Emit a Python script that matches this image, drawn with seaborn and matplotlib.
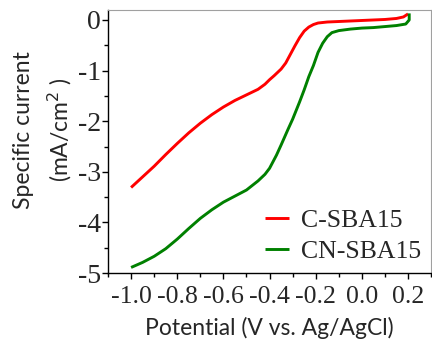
import numpy as np
import pandas as pd
import matplotlib
matplotlib.use("Agg")
import matplotlib.pyplot as plt
import seaborn as sns
from matplotlib.ticker import MultipleLocator

sns.set_style("ticks")

potential_c = [-1.00, -0.95, -0.90, -0.85, -0.80, -0.75, -0.70, -0.65, -0.60, -0.55, -0.50,
               -0.45, -0.42, -0.40, -0.38, -0.35, -0.33, -0.31, -0.29, -0.27, -0.25, -0.23,
               -0.21, -0.19, -0.15, -0.10, -0.05, 0.00, 0.05, 0.10, 0.15, 0.18, 0.20]
current_c = [-3.31, -3.10, -2.89, -2.66, -2.44, -2.23, -2.04, -1.87, -1.72, -1.59, -1.48,
             -1.37, -1.27, -1.18, -1.10, -0.97, -0.85, -0.68, -0.51, -0.35, -0.22, -0.14,
             -0.09, -0.06, -0.04, -0.03, -0.02, -0.01, 0.00, 0.01, 0.03, 0.06, 0.12]

potential_cn = [-1.00, -0.95, -0.90, -0.85, -0.80, -0.75, -0.70, -0.65, -0.60, -0.55, -0.50,
                -0.45, -0.42, -0.40, -0.37, -0.35, -0.32, -0.30, -0.27, -0.25, -0.23, -0.21,
                -0.19, -0.17, -0.15, -0.13, -0.10, -0.05, 0.00, 0.05, 0.10, 0.15, 0.19,
                0.205, 0.205]
current_cn = [-4.89, -4.79, -4.67, -4.52, -4.33, -4.12, -3.92, -3.75, -3.60, -3.48, -3.36,
              -3.18, -3.05, -2.93, -2.67, -2.47, -2.16, -1.96, -1.62, -1.38, -1.12, -0.90,
              -0.64, -0.46, -0.33, -0.25, -0.21, -0.18, -0.16, -0.15, -0.13, -0.11, -0.08,
              0.00, 0.13]

labels = ["C-SBA15", "CN-SBA15"]
colors = ["#ff0000", "#008000"]

df = pd.concat([
    pd.DataFrame({"Potential": potential_c, "Current": current_c, "Sample": labels[0]}),
    pd.DataFrame({"Potential": potential_cn, "Current": current_cn, "Sample": labels[1]}),
], ignore_index=True)

fig = plt.figure(figsize=(4.32, 3.40), dpi=100)
ax = fig.add_axes([0.25, 0.197, 0.748, 0.774])

sns.lineplot(data=df, x="Potential", y="Current", hue="Sample", palette=colors,
             sort=False, estimator=None, units="Sample", linewidth=2.1, ax=ax)
for ln in ax.get_lines():
    ln.set_solid_joinstyle("round")
    ln.set_solid_capstyle("butt")

ax.set_xlim(-1.1, 0.3)
ax.set_ylim(-5, 0.2)
ax.xaxis.set_minor_locator(MultipleLocator(0.1))
ax.yaxis.set_minor_locator(MultipleLocator(0.5))
ax.set_xticks([-1.0, -0.8, -0.6, -0.4, -0.2, 0.0, 0.2])
ax.set_xticklabels(["-1.0", "-0.8", "-0.6", "-0.4", "-0.2", "0.0", "0.2"])
ax.set_yticks([0, -1, -2, -3, -4, -5])
ax.set_yticklabels(["0", "-1", "-2", "-3", "-4", "-5"])

serif = "Liberation Serif"
for lab in ax.get_xticklabels():
    lab.set_fontfamily(serif)
    lab.set_fontsize(18.5)
for lab in ax.get_yticklabels():
    lab.set_fontfamily(serif)
    lab.set_fontsize(20)
ax.tick_params(axis="both", which="major", length=4, width=1, direction="out", color="black")
ax.tick_params(axis="y", which="major", pad=1)
ax.tick_params(axis="x", which="major", pad=5)
ax.tick_params(axis="both", which="minor", length=3, width=1, direction="out", color="black")

for s in ["left", "bottom"]:
    ax.spines[s].set_color("black")
    ax.spines[s].set_linewidth(1)
for s in ["top", "right"]:
    ax.spines[s].set_color("#a0a0a0")
    ax.spines[s].set_linewidth(0.8)

ax.set_xlabel("Potential (V vs. Ag/AgCl)", fontsize=16.5, fontfamily="Lato", labelpad=7)
ax.set_ylabel("Specific current\n(mA/cm$^{2}$ )", fontsize=16.5, fontfamily="Lato",
              linespacing=1.55)
ax.yaxis.set_label_coords(-0.105, 0.545)

leg = ax.legend(loc="lower right", frameon=False, prop={"family": serif, "size": 18.5},
                handlelength=0.95, handletextpad=0.45, labelspacing=0.32,
                borderaxespad=0.0, bbox_to_anchor=(1.0, 0.0))

fig.savefig("out.png", dpi=100)
